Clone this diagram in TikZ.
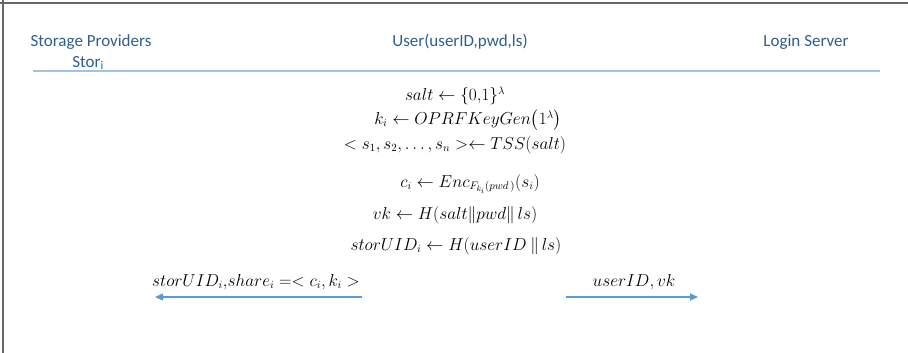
\documentclass[tikz,border=0pt]{standalone}
\usepackage{fontspec}
\setmainfont{Carlito}
\usepackage{amsmath}
\usetikzlibrary{arrows.meta}
\begin{document}
\begin{tikzpicture}[x=1pt,y=-1pt,
  hdr/.style={font=\fontsize{17}{19}\selectfont, text=hdrblue, inner sep=0pt, anchor=center},
  mth/.style={font=\fontsize{16.2}{18}\selectfont, inner sep=0pt, anchor=center},
  msg/.style={draw=arrblue, line width=1.3pt, -{Triangle[length=8pt,width=7pt]}}]
\definecolor{hdrblue}{RGB}{46,94,142}
\definecolor{linblue}{RGB}{160,195,228}
\definecolor{arrblue}{RGB}{91,155,213}
\useasboundingbox (0,0) rectangle (908,353);
\draw[line width=2pt, gray!80!black] (0,3) -- (908,3);
\draw[line width=2pt, gray!80!black] (3,0) -- (3,353);
\node[hdr] (sp) at (91,42) {Storage Providers};
\node[hdr] (stor) at (88,63) {Stor\textsubscript{i}};
\node[hdr] (user) at (460,42) {User(userID,pwd,ls)};
\node[hdr] (ls) at (806,42) {Login Server};
\coordinate (la) at (33,71);
\coordinate (lb) at (880,71);
\draw[linblue, line width=1.3pt] (la) -- (lb);
\node[mth] (m1) at (455,96) {$salt \leftarrow \{0{,}1\}^{\lambda}$};
\node[mth] (m2) at (468,120) {$k_i \leftarrow OPRFKeyGen\big(1^{\lambda}\big)$};
\node[mth] (m3) at (455,145) {$< s_1, s_2, \ldots, s_n >\leftarrow TSS(salt)$};
\node[mth] (m4) at (470,184) {$c_i \leftarrow Enc_{F_{k_i}(pwd\,)}(s_i)$};
\node[mth] (m5) at (455,215) {$vk \leftarrow H(salt\|pwd\|\,ls)$};
\node[mth] (m6) at (456,246) {$storUID_i \leftarrow H(userID\ \|\,ls)$};
\node[mth] (l1) at (256,282) {$storUID_i{,}share_i =< c_i, k_i >$};
\node[mth] (l2) at (634,282) {$userID, vk$};
\coordinate (a1s) at (362,297);
\coordinate (a1e) at (155,297);
\coordinate (a2s) at (566,297);
\coordinate (a2e) at (698,297);
\draw[msg] (a1s) -- (a1e);
\draw[msg] (a2s) -- (a2e);
\end{tikzpicture}
\end{document}
